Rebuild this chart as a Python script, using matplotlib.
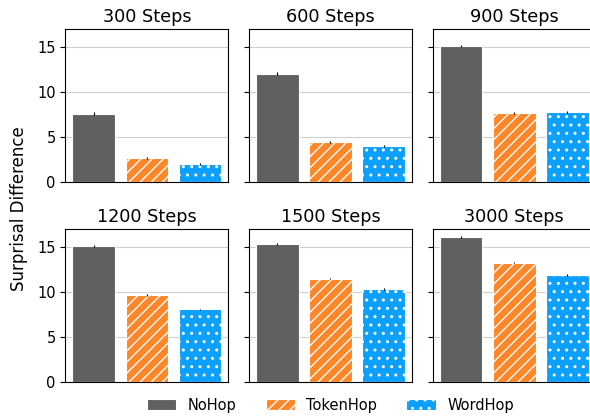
import matplotlib
matplotlib.use("Agg")
import matplotlib.pyplot as plt
import numpy as np

# ── Dati ──────────────────────────────────────────────────────────────────────
STEPS   = ["300", "600", "900", "1200", "1500", "3000"]
METHODS = ["NoHop", "TokenHop", "WordHop"]

NOHOP    = [7.58, 12.06, 15.16, 15.12, 15.38, 16.13]
TOKENHOP = [2.65, 4.41, 7.66, 9.71, 11.50, 13.29]
WORDHOP  = [1.98, 3.96, 7.80, 8.06, 10.38, 11.91]

NOHOP_ERR    = [0.15, 0.15, 0.12, 0.15, 0.12, 0.12]
TOKENHOP_ERR = [0.12, 0.12, 0.10, 0.10, 0.10, 0.10]
WORDHOP_ERR  = [0.12, 0.12, 0.10, 0.10, 0.10, 0.10]

# ── Stile ─────────────────────────────────────────────────────────────────────
COLORS  = ["#606060", "#fd8628", "#0c9ffc"]
HATCHES = ["", "///", ".."]

plt.rcParams["hatch.linewidth"] = 1.0

fig = plt.figure(figsize=(5.9, 4.18), dpi=100, facecolor="white")

W, H = 0.2763, 0.3647
LEFTS   = [0.1107, 0.4220, 0.7334]
BOTTOMS = [0.5653, 0.0868]

values = np.array([NOHOP, TOKENHOP, WORDHOP])
errors = np.array([NOHOP_ERR, TOKENHOP_ERR, WORDHOP_ERR])

x = np.arange(len(METHODS))
for i, step in enumerate(STEPS):
    r, c = divmod(i, 3)
    ax = fig.add_axes([LEFTS[c], BOTTOMS[r], W, H])
    for j, m in enumerate(METHODS):
        ax.bar(x[j], values[j, i], width=0.8, color=COLORS[j],
               edgecolor="white", linewidth=0.8, hatch=HATCHES[j],
               label=m, zorder=3)
        ax.errorbar(x[j], values[j, i], yerr=errors[j, i], fmt="none",
                    ecolor="black", elinewidth=0.8, zorder=4)
    ax.set_ylim(0, 17)
    ax.set_xlim(-0.53, 2.53)
    ax.set_yticks([0, 5, 10, 15])
    ax.set_xticks([])
    ax.grid(axis="y", color="#d0d0d0", lw=0.8, zorder=0)
    ax.set_axisbelow(True)
    ax.set_title(f"{step} Steps", fontsize=12.7, pad=5)
    ax.tick_params(axis="y", labelsize=10.5)
    if c != 0:
        ax.tick_params(axis="y", labelleft=False)
    if i == 0:
        handles, labels = ax.get_legend_handles_labels()

fig.text(0.033, 0.50, "Surprisal Difference", rotation=90,
         va="center", ha="center", fontsize=12)

fig.legend(handles, labels, loc="center", ncol=3, frameon=False,
           fontsize=10.5, bbox_to_anchor=(0.56, 0.031), columnspacing=2.0)

fig.savefig("out.png", dpi=100)
